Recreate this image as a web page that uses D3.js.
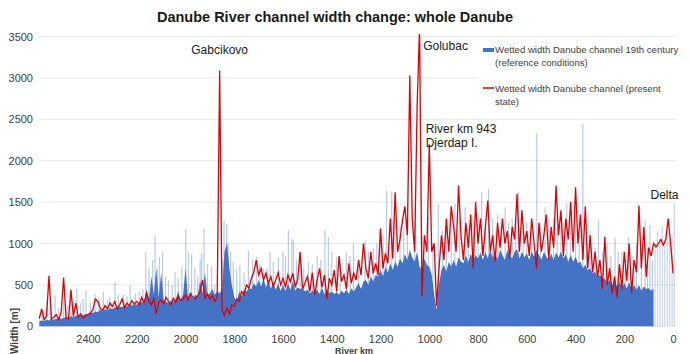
<!DOCTYPE html>
<html>
<head>
<meta charset="utf-8">
<script src="https://cdn.jsdelivr.net/npm/d3@7"></script>
<style>
  body { margin: 0; background: #fff; }
  text { font-family: "Liberation Sans", Arial, sans-serif; }
</style>
</head>
<body>
<script>
// river km runs from 2600 down to 0, one value every 10 km
const kmStart = 2600;
const kmStep = 10;

// present state width (m)
const presentWidth = [
  90, 210, 80, 120, 610, 90, 110, 140, 80, 170,
  590, 100, 90, 440, 120, 280, 110, 150, 100, 130,
  140, 160, 200, 330, 300, 220, 190, 250, 210, 280,
  240, 300, 210, 260, 330, 230, 280, 250, 310, 270,
  300, 260, 350, 280, 400, 310, 260, 330, 150, 290,
  320, 270, 350, 300, 260, 340, 290, 360, 310, 330,
  380, 320, 400, 350, 330, 370, 420, 560, 340, 390,
  330, 370, 300, 350, 3090, 200, 130, 220, 150, 260,
  240, 330, 300, 420, 380, 500, 460, 580, 650, 800,
  620, 700, 560, 640, 520, 600, 480, 560, 650, 500,
  580, 470, 620, 540, 640, 480, 560, 900, 450, 520,
  600, 420, 650, 380, 560, 700, 470, 620, 330, 580,
  500, 680, 420, 850, 540, 620, 450, 760, 520, 640,
  560, 800, 620, 1000, 700, 580, 900, 640, 760, 620,
  1180, 700, 880, 760, 1300, 820, 1620, 900, 1050, 1280,
  1450, 1100, 3030, 1300, 900, 2650, 3600, 360, 1100, 900,
  2200, 900, 1000, 250, 700, 1100, 800, 1300, 900, 1450,
  1200, 900, 1700, 1100, 800, 1250, 950, 1350, 700, 1500,
  1000, 1300, 850, 1200, 1520, 900, 1100, 780, 1250, 950,
  1300, 1000, 1150, 820, 1200, 1050, 1600, 900, 1400, 1000,
  1150, 850, 1300, 1000, 700, 1250, 900, 1100, 1350, 800,
  1200, 950, 1700, 1100, 1400, 850, 1300, 1050, 1500, 900,
  1680, 1000, 1350, 800, 1450, 700, 1100, 650, 900, 600,
  800, 450, 1080, 500, 700, 400, 600, 350, 750, 450,
  900, 550, 1000, 400, 800, 650, 1460, 700, 1200, 600,
  950, 850, 1000, 960, 1000, 1050, 980, 1050, 1300, 1000, 640
];

// 19th century width (m), main body; no continuous data in the delta
const refWidth = [
  60, 70, 60, 80, 70, 90, 80, 90, 100, 90,
  100, 110, 100, 120, 110, 130, 120, 140, 130, 150,
  150, 170, 160, 180, 170, 200, 180, 210, 190, 220,
  210, 230, 220, 240, 230, 250, 240, 260, 250, 270,
  260, 280, 300, 270, 450, 320, 600, 380, 700, 350,
  650, 320, 300, 280, 310, 300, 330, 420, 320, 380,
  700, 350, 400, 330, 380, 360, 550, 400, 650, 380,
  400, 450, 380, 420, 400, 450, 900, 1000, 700, 500,
  350, 300, 420, 360, 440, 420, 460, 450, 520, 480,
  560, 480, 580, 470, 550, 450, 530, 440, 520, 430,
  500, 420, 520, 440, 540, 430, 470, 450, 460, 420,
  440, 400, 430, 410, 440, 390, 470, 380, 450, 400,
  420, 390, 410, 380, 430, 400, 440, 390, 460, 420,
  470, 520, 450, 540, 560, 500, 600, 540, 620, 600,
  680, 600, 720, 650, 760, 680, 780, 720, 820, 760,
  870, 800, 920, 830, 780, 900, 720, 680, 820, 740,
  720, 620, 380, 200, 520, 680, 740, 660, 780, 720,
  800, 720, 830, 780, 760, 860, 770, 880, 790, 860,
  820, 890, 800, 900, 820, 920, 830, 900, 800, 920,
  860, 800, 920, 850, 820, 900, 930, 820, 900, 830,
  880, 800, 900, 840, 920, 860, 800, 900, 840, 800,
  880, 800, 890, 830, 900, 820, 870, 780, 860, 780,
  840, 760, 780, 700, 740, 680, 700, 640, 660, 600,
  620, 560, 580, 520, 560, 500, 530, 480, 540, 470,
  520, 460, 530, 450, 500, 440, 500, 430, 480, 450,
  460, 430, 450, 0, 0, 0, 0, 0, 0, 0, 0
];

// isolated narrow peaks of the 19th century series
const refPeakKm = [2588, 2569, 2535, 2500, 2470, 2446, 2430, 2408, 2371, 2337, 2310, 2289, 2255, 2227, 2190,
  2163, 2150, 2125, 2107, 2094, 2070, 2043, 2015, 1999, 1975, 1950, 1934, 1924, 1893, 1842, 1831, 1815,
  1804, 1777, 1742, 1708, 1680, 1653, 1619, 1578, 1564, 1557, 1530, 1496, 1460, 1428, 1414, 1380, 1340,
  1311, 1263, 1230, 1202, 1175, 1154, 1120, 1090, 1004, 963, 930, 895, 853, 820, 785, 757, 720, 689,
  660, 634, 600, 559, 525, 490, 460, 436, 400, 370, 340, 306, 270, 238, 210, 184, 150, 115, 95,
  2580, 2555, 2520, 2485, 2460, 2420, 2390, 2355, 2320, 2275, 2240, 2205, 2175, 2135, 2115, 2082, 2055,
  2030, 1988, 1962, 1940, 1910, 1880, 1850, 1825, 1790, 1760, 1725, 1695, 1665, 1640, 1600, 1590, 1545,
  1515, 1480, 1445, 1400, 1365, 1325, 1290, 1250, 1215, 1190, 1140, 1105, 1060, 1030, 985, 945, 910,
  875, 840, 800, 770, 740, 705, 675, 645, 615, 580, 545, 510, 475, 450, 420, 385, 355, 320, 290, 255,
  225, 195, 165, 130, 105, 85];
const refPeakVal = [200, 313, 374, 300, 330, 454, 280, 434, 394, 414, 350, 534, 380, 494, 420,
  896, 700, 1097, 836, 896, 550, 655, 715, 1177, 876, 600, 876, 1177, 715, 1278, 1237, 900,
  776, 735, 916, 836, 700, 896, 836, 1157, 1056, 1036, 800, 776, 850, 1157, 1076, 836, 900,
  997, 1036, 950, 1177, 1640, 1620, 1200, 1300, 1318, 1479, 1250, 1479, 1439, 1300, 1620, 1660, 1350, 1439,
  1300, 1620, 1250, 2328, 1439, 1300, 1200, 1479, 1350, 2449, 1150, 1278, 1000, 1076, 900, 1076, 1000, 1278, 1217,
  180, 250, 220, 260, 300, 330, 280, 350, 320, 380, 360, 400, 450, 800, 700, 600, 500,
  580, 900, 700, 800, 750, 500, 800, 1000, 700, 650, 800, 750, 700, 780, 900, 850, 800,
  700, 750, 800, 900, 750, 850, 800, 900, 1000, 1100, 1300, 1200, 1250, 1100, 1000, 1150, 1250,
  1300, 1200, 1350, 1250, 1300, 1200, 1250, 1300, 1200, 1150, 1250, 1300, 1200, 1250, 1300, 1100, 1000, 950, 900, 850,
  900, 800, 850, 900, 950, 800];

// delta: single thin columns only
const deltaKm = [74, 64, 54, 44, 34, 24, 14, 4, -5];
const deltaVal = [1000, 1150, 1050, 1200, 1000, 1150, 1050, 1100, 1480];

const yTicks = [0, 500, 1000, 1500, 2000, 2500, 3000, 3500];
const xTicks = [2400, 2200, 2000, 1800, 1600, 1400, 1200, 1000, 800, 600, 400, 200, 0];

const labels = [
  { text: 'Gabcikovo', km: 1860, v: 3290, anchor: 'middle' },
  { text: 'Golubac', km: 1025, v: 3340, anchor: 'start' },
  { text: 'River km 943', km: 1015, v: 2340, anchor: 'start' },
  { text: 'Djerdap I.', km: 1015, v: 2170, anchor: 'start' },
  { text: 'Delta', km: 35, v: 1540, anchor: 'middle' }
];

const W = 690, H = 354;
const blue = '#4472c4';
const red = '#e00000';

const svg = d3.select('body').append('svg').attr('width', W).attr('height', H);

const x = d3.scaleLinear().domain([2601, -12]).range([39, 676]);
const y = d3.scaleLinear().domain([0, 3500]).range([326.3, 36.5]);

const kms = presentWidth.map((d, i) => kmStart - i * kmStep);

// grid
svg.append('g')
  .selectAll('line')
  .data(yTicks)
  .enter()
  .append('line')
  .attr('x1', 39)
  .attr('x2', 676)
  .attr('y1', d => y(d))
  .attr('y2', d => y(d))
  .attr('stroke', '#e8e8e8')
  .attr('stroke-width', 1);

svg.append('clipPath').attr('id', 'clip')
  .append('rect').attr('x', 39).attr('y', 34).attr('width', 640).attr('height', 294);

const plot = svg.append('g').attr('clip-path', 'url(#clip)');

// thin peaks of the reference series
plot.append('g')
  .selectAll('line')
  .data(refPeakKm.map((k, i) => ({ k, v: refPeakVal[i] })))
  .enter()
  .append('line')
  .attr('x1', d => x(d.k))
  .attr('x2', d => x(d.k))
  .attr('y1', y(0))
  .attr('y2', d => y(d.v))
  .attr('stroke', blue)
  .attr('stroke-opacity', 0.38)
  .attr('stroke-width', 1.2);

plot.append('g')
  .selectAll('line')
  .data(deltaKm.map((k, i) => ({ k, v: deltaVal[i] })))
  .enter()
  .append('line')
  .attr('x1', d => x(d.k))
  .attr('x2', d => x(d.k))
  .attr('y1', y(0))
  .attr('y2', d => y(d.v))
  .attr('stroke', blue)
  .attr('stroke-opacity', 0.3)
  .attr('stroke-width', 1.2);

// reference body
const area = d3.area()
  .defined(d => d.v > 0)
  .x(d => x(d.k))
  .y0(y(0))
  .y1(d => y(d.v));

plot.append('path')
  .datum(refWidth.map((v, i) => ({ k: kms[i], v })))
  .attr('d', area)
  .attr('fill', blue);

// present state
const line = d3.line()
  .x(d => x(d.k))
  .y(d => y(d.v));

plot.append('path')
  .datum(presentWidth.map((v, i) => ({ k: kms[i], v })))
  .attr('d', line)
  .attr('fill', 'none')
  .attr('stroke', red)
  .attr('stroke-width', 1.3)
  .attr('stroke-linejoin', 'miter');

// axes
const yAxis = svg.append('g')
  .attr('transform', 'translate(39,0)')
  .call(d3.axisLeft(y).tickValues(yTicks).tickSize(0).tickPadding(6).tickFormat(d3.format('d')));
yAxis.select('.domain').remove();

const xAxis = svg.append('g')
  .attr('transform', 'translate(0,326)')
  .call(d3.axisBottom(x).tickValues(xTicks).tickSize(0).tickPadding(9).tickFormat(d3.format('d')));
xAxis.select('.domain').remove();

svg.selectAll('.tick text')
  .attr('font-family', '"Liberation Sans", Arial, sans-serif')
  .attr('font-size', 11)
  .attr('fill', '#404040');

// titles
svg.append('text')
  .attr('x', 335)
  .attr('y', 22)
  .attr('text-anchor', 'middle')
  .attr('font-size', 14.5)
  .attr('font-weight', 'bold')
  .attr('fill', '#1a1a1a')
  .text('Danube River channel width change: whole Danube');

svg.append('text')
  .attr('transform', 'translate(18,331) rotate(-90)')
  .attr('text-anchor', 'middle')
  .attr('font-size', 10)
  .attr('font-weight', 'bold')
  .attr('fill', '#404040')
  .text('Width [m]');

// axis title squeezed onto the lower edge
svg.append('text')
  .attr('x', 354)
  .attr('y', 353.5)
  .attr('text-anchor', 'middle')
  .attr('font-size', 9)
  .attr('font-weight', 'bold')
  .attr('fill', '#404040')
  .text('River km');

// legend
const legend = svg.append('g');
legend.append('rect')
  .attr('x', 479).attr('y', 38).attr('width', 197).attr('height', 76)
  .attr('fill', '#fff');
legend.append('rect')
  .attr('x', 483).attr('y', 48).attr('width', 11).attr('height', 4)
  .attr('fill', blue);
legend.append('line')
  .attr('x1', 483).attr('x2', 494).attr('y1', 88).attr('y2', 88)
  .attr('stroke', red).attr('stroke-width', 1.5);

const legendText = [
  ['Wetted width Danube channel 19th century', 53],
  ['(reference conditions)', 66],
  ['Wetted width Danube channel (present', 92],
  ['state)', 105]
];
legend.selectAll('text.lg')
  .data(legendText)
  .enter()
  .append('text')
  .attr('class', 'lg')
  .attr('x', 495)
  .attr('y', d => d[1])
  .attr('font-size', 9.6)
  .attr('fill', '#404040')
  .text(d => d[0]);

// annotations
svg.append('g')
  .selectAll('text')
  .data(labels)
  .enter()
  .append('text')
  .attr('x', d => x(d.km))
  .attr('y', d => y(d.v))
  .attr('text-anchor', d => d.anchor)
  .attr('font-size', 12)
  .attr('fill', '#1a1a1a')
  .text(d => d.text);
</script>
</body>
</html>
